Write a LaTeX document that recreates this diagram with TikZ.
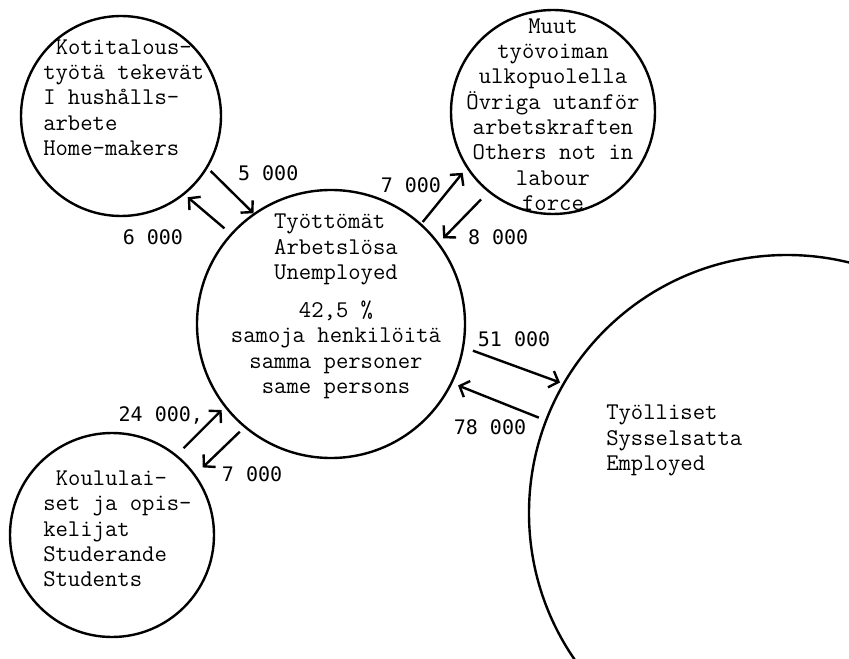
\documentclass[tikz,border=0pt]{standalone}
\usepackage{fontspec}
\newfontfamily\numfont{DejaVu Sans Mono}
\usetikzlibrary{arrows.meta}

\begin{document}
\begin{tikzpicture}[x=0.75pt, y=-0.75pt,
        pool/.style={circle, draw, line width=1.8pt, inner sep=0pt},
        pooltext/.style={font=\ttfamily\fontsize{18}{19}\selectfont, inner sep=0pt},
        flowarrow/.style={line width=1.8pt, -{Straight Barb[length=6pt, width=13pt]}},
        flowlabel/.style={font=\numfont\fontsize{15}{17}\selectfont, inner sep=0pt}]
        \useasboundingbox (0,0) rectangle (849,659);
        \clip (0,0) rectangle (849,659);

        % Circles
        \node[pool, minimum size=150pt] (home) at (121,116) {};
        \node[pool, minimum size=201pt] (unemp) at (331,324) {};
        \node[pool, minimum size=153pt] (others) at (553,112) {};
        \node[pool, minimum size=153pt] (students) at (112,535) {};
        \node[pool, minimum size=387pt] (employed) at (787,513) {};

        % Texts
        \node[pooltext, align=left, anchor=west] (hometext) at (43,97.5)
            {\hspace*{0.525em}Kotitalous-\\työtä tekevät\\I hushålls-\\arbete\\Home-makers};
        \node[pooltext, align=center] (unemptext) at (336,306.5)
            {Työttömät\hspace*{0.525em}\\Arbetslösa\\Unemployed\\[9.5pt]42,5 \%\\samoja henkilöitä\\samma personer\\same persons};
        \node[pooltext, align=center] (otherstext) at (553,114.5)
            {Muut\\työvoiman\\ulkopuolella\\Övriga utanför\\arbetskraften\\Others not in\\labour\hspace*{30pt}\\force};
        \node[pooltext, align=left, anchor=west] (studentstext) at (43,529)
            {\hspace*{0.525em}Koululai-\\set ja opis-\\kelijat\\Studerande\\Students};
        \node[pooltext, align=left, anchor=west] (employedtext) at (606,440.5)
            {Työlliset\\Sysselsatta\\Employed};

        % Flows
        \draw[flowarrow, shorten <=3pt] (home.-31) -- (unemp.125)
            node[flowlabel, midway, xshift=28.2pt, yshift=13.4pt] (fhome) {5 000};
        \draw[flowarrow, shorten <=6pt, shorten >=3pt] (unemp.138) -- (home.-51)
            node[flowlabel, midway, xshift=-41pt, yshift=-17.3pt] (thome) {6 000};
        \draw[flowarrow, shorten <=1.5pt, shorten >=4.5pt] (unemp.48) -- (others.213)
            node[flowlabel, midway, xshift=-24.8pt, yshift=8.3pt] (tothers) {7 000};
        \draw[flowarrow, shorten <=7.5pt, shorten >=4.5pt] (others.231) -- (unemp.37)
            node[flowlabel, midway, xshift=26pt, yshift=-14.7pt] (fothers) {8 000};
        \draw[flowarrow, shorten <=7pt, shorten >=2pt] (unemp.-10) -- (employed.150)
            node[flowlabel, midway, xshift=0.5pt, yshift=20pt] (temployed) {51 000};
        \draw[flowarrow, shorten <=5pt, shorten >=4.5pt] (employed.159) -- (unemp.-26)
            node[flowlabel, midway, xshift=-6.6pt, yshift=-19pt] (femployed) {78 000};
        \draw[flowarrow, shorten <=7pt, shorten >=3pt] (students.51) -- (unemp.218)
            node[flowlabel, midway, xshift=-29.9pt, yshift=11.3pt] (fstudents) {24 000,};
        \draw[flowarrow, shorten <=4.5pt, shorten >=7.5pt] (unemp.230) -- (students.36)
            node[flowlabel, midway, xshift=24.2pt, yshift=-17.4pt] (tstudents) {7 000};
\end{tikzpicture}
\end{document}
